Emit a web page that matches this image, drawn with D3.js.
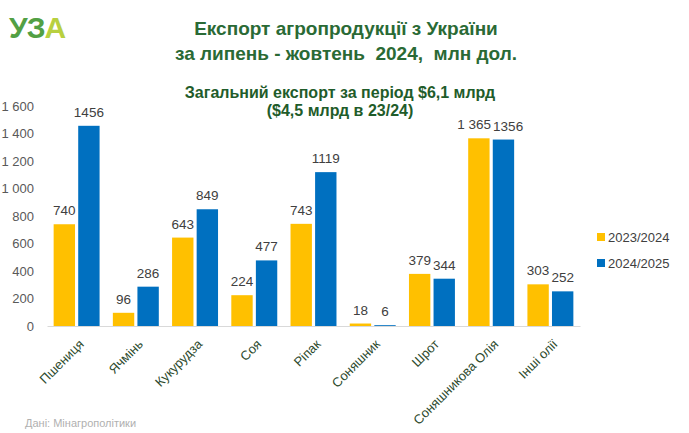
<!DOCTYPE html>
<html><head><meta charset="utf-8">
<script src="https://cdn.jsdelivr.net/npm/d3@7"></script>
<style>
html,body{margin:0;padding:0;background:#fff;}
text{font-family:"Liberation Sans",Arial,sans-serif;}
</style></head>
<body>
<svg id="chart" width="689" height="433"></svg>
<script>
const categories = ["Пшениця","Ячмінь","Кукурудза","Соя","Ріпак","Соняшник","Шрот","Соняшникова Олія","Інші олії"];
const seriesNames = ["2023/2024","2024/2025"];
const values2023 = [740, 96, 643, 224, 743, 18, 379, 1365, 303];
const values2024 = [1456, 286, 849, 477, 1119, 6, 344, 1356, 252];
const labels2023 = ["740","96","643","224","743","18","379","1 365","303"];
const labels2024 = ["1456","286","849","477","1119","6","344","1356","252"];
const yTicks = [0,200,400,600,800,1000,1200,1400,1600];
const colors = ["#FFC000","#0070C0"];

(function(){
const svg = d3.select("#chart");
const mLeft = 47, mRight = 580, mTop = 106, mBottom = 326;

const x = d3.scaleBand().domain(categories).range([mLeft, mRight]).paddingInner(0).paddingOuter(0);
const x1 = d3.scaleBand().domain(seriesNames).range([0, x.bandwidth()]).paddingInner(0.13).paddingOuter(0.27);
const y = d3.scaleLinear().domain([0,1600]).range([mBottom, mTop]);

const loc = d3.formatLocale({decimal:",", thousands:" ", grouping:[3], currency:["",""]});
const fmt = loc.format(",");

const yAxis = d3.axisLeft(y).tickValues(yTicks).tickFormat(fmt).tickSize(0).tickPadding(0);
const yg = svg.append("g").attr("transform", `translate(34,0)`).call(yAxis);
yg.select(".domain").remove();
yg.selectAll("text").attr("fill","#595959").style("font-size","13px").style("font-family","'Liberation Sans',Arial,sans-serif");

const xAxis = d3.axisBottom(x).tickSize(0).tickFormat("");
const xg = svg.append("g").attr("transform", `translate(0,${mBottom})`).call(xAxis);
xg.select(".domain").attr("stroke","#d9d9d9").attr("stroke-width",1);

const data = categories.map((c,i)=>({c, vals:[values2023[i], values2024[i]], labs:[labels2023[i], labels2024[i]]}));

const groups = svg.append("g").selectAll("g").data(data).join("g")
  .attr("transform", d=>`translate(${x(d.c)},0)`);

groups.selectAll("rect").data(d=>d.vals.map((v,k)=>({v,k}))).join("rect")
  .attr("x", d=>x1(seriesNames[d.k]))
  .attr("width", x1.bandwidth())
  .attr("y", d=>y(d.v))
  .attr("height", d=>mBottom - y(d.v))
  .attr("fill", d=>colors[d.k]);

groups.each(function(){
  const g = d3.select(this);
  const t = g.selectAll("text.val").data(d=>d.vals.map((v,k)=>({v,k,l:d.labs[k]}))).join("text")
    .attr("class","val")
    .attr("x", d=>x1(seriesNames[d.k]) + x1.bandwidth()/2)
    .attr("y", d=>y(d.v) - 9)
    .attr("text-anchor","middle")
    .attr("fill","#404040")
    .style("font-size","13.5px")
    .text(d=>d.l);
  // separate overlapping labels horizontally
  const nodes = t.nodes();
  const b0 = nodes[0].getBBox(), b1 = nodes[1].getBBox();
  const vOver = Math.min(b0.y+b0.height, b1.y+b1.height) - Math.max(b0.y, b1.y);
  const hOver = (b0.x + b0.width) - b1.x;
  if (vOver > 0 && hOver > 0) {
    const s = hOver/2 + 1;
    d3.select(nodes[0]).attr("x", +d3.select(nodes[0]).attr("x") - s);
    d3.select(nodes[1]).attr("x", +d3.select(nodes[1]).attr("x") + s);
  }
});

svg.append("g").selectAll("text").data(categories).join("text")
  .attr("transform", d=>`translate(${x(d)+x.bandwidth()/2+8},${mBottom+19}) rotate(-45)`)
  .attr("text-anchor","end")
  .attr("fill","#2d4a2d")
  .style("font-size","13px")
  .text(d=>d);

const lg = svg.append("g").attr("transform","translate(597,233)");
seriesNames.forEach((s,i)=>{
  lg.append("rect").attr("x",0).attr("y",i*26).attr("width",8).attr("height",8).attr("fill",colors[i]);
  lg.append("text").attr("x",11).attr("y",i*26+9).attr("fill","#404040").style("font-size","13px").text(s);
});

svg.append("text").attr("x",346).attr("y",35).attr("text-anchor","middle")
  .attr("fill","#2a6a35").style("font-size","19px").style("font-weight","bold")
  .text("Експорт агропродукції з України");
svg.append("text").attr("x",346).attr("y",60).attr("text-anchor","middle")
  .attr("fill","#2a6a35").style("font-size","19px").style("font-weight","bold")
  .attr("xml:space","preserve")
  .text("за липень - жовтень  2024,  млн дол.");
svg.append("text").attr("x",340).attr("y",98).attr("text-anchor","middle")
  .attr("fill","#1f5c2a").style("font-size","16px").style("font-weight","bold")
  .text("Загальний експорт за період $6,1 млрд");
svg.append("text").attr("x",340).attr("y",116).attr("text-anchor","middle")
  .attr("fill","#1f5c2a").style("font-size","16px").style("font-weight","bold")
  .text("($4,5 млрд в 23/24)");

const logo = svg.append("text").attr("x",9).attr("y",38)
  .style("font-family","'Liberation Sans Narrow','Liberation Sans',Arial,sans-serif").style("font-size","30px").style("font-weight","bold")
  .style("letter-spacing","-1px");
logo.append("tspan").attr("fill","#52a044").text("УЗ");
logo.append("tspan").attr("fill","#b8d040").text("А");

svg.append("text").attr("x",25).attr("y",427).attr("fill","#b0b0b0").style("font-size","11px")
  .text("Дані: Мінагрополітики");
})();
</script>
</body></html>
